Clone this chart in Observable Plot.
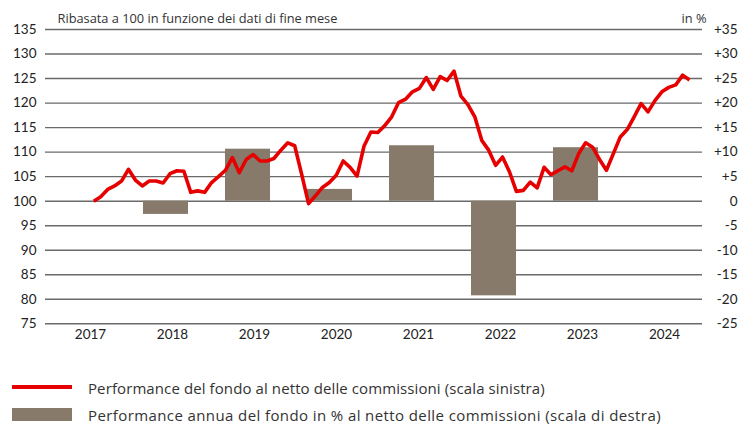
<!DOCTYPE html>
<html>
<head>
<meta charset="utf-8">
<script src="https://cdn.jsdelivr.net/npm/d3@7"></script>
<script src="https://cdn.jsdelivr.net/npm/@observablehq/plot@0.6"></script>
<style>
  html, body { margin: 0; padding: 0; background: #fff; }
  #wrap { position: relative; width: 748px; height: 428px; font-family: "Open Sans", Lato, sans-serif; color: #333; }
  #chart { position: absolute; left: 0; top: 0; }
  .leg { position: absolute; left: 0; width: 748px; height: 20px; font-size: 15px; }
  .leg .sw { position: absolute; left: 12px; width: 60px; }
  .leg .tx { position: absolute; left: 88px; top: 0; line-height: 20px; white-space: nowrap; }
</style>
</head>
<body>
<div id="wrap">
  <div id="chart"></div>
  <div class="leg" style="top:378px"><div class="sw" style="top:7px;height:4px;background:#e60000"></div><div class="tx" style="letter-spacing:0.1px">Performance del fondo al netto delle commissioni (scala sinistra)</div></div>
  <div class="leg" style="top:405px"><div class="sw" style="top:3px;height:13px;background:#877a6b"></div><div class="tx" style="letter-spacing:0.4px">Performance annua del fondo in % al netto delle commissioni (scala di destra)</div></div>
</div>
<script>
// Tick labels
const yearLabels = [2017, 2018, 2019, 2020, 2021, 2022, 2023, 2024];
const leftTicks = [75, 80, 85, 90, 95, 100, 105, 110, 115, 120, 125, 130, 135];
const titleText = "Ribasata a 100 in funzione dei dati di fine mese";
const unitText = "in %";

// Annual performance bars (right scale, %)
const barYears = [2018, 2019, 2020, 2021, 2022, 2023];
const barValues = [-2.7, 10.6, 2.4, 11.3, -19.3, 10.9];

// Monthly fund performance, rebased to 100 (left scale)
const fundValues = [
  100.0, 100.9, 102.4, 103.1, 104.1, 106.5, 104.3, 103.1, 104.1, 104.1,
  103.7, 105.6, 106.2, 106.1, 101.8, 102.1, 101.8, 103.8, 105.0, 106.3,
  108.9, 105.8, 108.5, 109.5, 108.2, 108.2, 108.7, 110.4, 111.9, 111.3,
  105.5, 99.5, 101.1, 102.8, 103.8, 105.3, 108.2, 106.9, 105.1, 111.2,
  114.1, 114.0, 115.4, 117.2, 120.1, 120.8, 122.3, 123.0, 125.2, 122.8,
  125.4, 124.6, 126.5, 121.4, 119.7, 117.2, 112.4, 110.4, 107.3, 109.0,
  106.0, 102.0, 102.2, 103.9, 102.7, 106.9, 105.4, 106.2, 107.0, 106.2,
  109.7, 111.9, 111.0, 108.5, 106.3, 109.7, 113.1, 114.6, 117.2, 119.9,
  118.2, 120.5, 122.3, 123.2, 123.7, 125.7, 124.7
];

// Layout: position of the first month on the year axis and month step
const firstMonthPos = 2017.04;
const monthStep = 0.08448;
const lineData = fundValues.map((v, i) => ({x: firstMonthPos + i * monthStep, y: v}));
const barData = barYears.map((yr, i) => ({x1: yr - 0.354, x2: yr + 0.195, value: barValues[i]}));

const fmtRight = d => { const v = d - 100; return v > 0 ? "+" + v : String(v); };

const chart = Plot.plot({
  width: 748,
  height: 350,
  marginLeft: 45,
  marginRight: 46,
  marginTop: 29,
  marginBottom: 26.7,
  x: {domain: [2016.451, 2024.463], label: null},
  y: {domain: [75, 135], label: null},
  style: {fontFamily: "Lato, 'Noto Sans', sans-serif", fontSize: "13.5px", color: "#222", background: "#fff"},
  marks: [
    Plot.ruleY(leftTicks, {stroke: "#6a6a6a", strokeWidth: 1.4}),
    Plot.rectY(barData, {x1: "x1", x2: "x2", y1: 100, y2: d => 100 + d.value, fill: "#877a6b"}),
    Plot.line(lineData, {x: "x", y: "y", stroke: "#e60000", strokeWidth: 3.6, strokeLinejoin: "round", strokeLinecap: "butt"}),
    Plot.axisY(leftTicks, {anchor: "left", tickSize: 0, tickPadding: 9, tickFormat: d => String(d), fill: "#222"}),
    Plot.axisY(leftTicks, {anchor: "right", tickSize: 0, tickPadding: 35, textAnchor: "end", tickFormat: fmtRight, fill: "#222"}),
    Plot.axisX(yearLabels, {anchor: "bottom", tickSize: 0, tickPadding: 6, tickFormat: d => String(d), fill: "#222"}),
    Plot.text([titleText], {frameAnchor: "top-left", dx: 12, dy: -7, lineAnchor: "bottom", textAnchor: "start", fontSize: 12.8, fontFamily: "'Open Sans', Lato, sans-serif", fill: "#333"}),
    Plot.text([unitText], {frameAnchor: "top-right", dx: 4, dy: -7, lineAnchor: "bottom", textAnchor: "end", fontSize: 12.8, fontFamily: "'Open Sans', Lato, sans-serif", fill: "#333"})
  ]
});
document.getElementById("chart").appendChild(chart);
</script>
</body>
</html>
